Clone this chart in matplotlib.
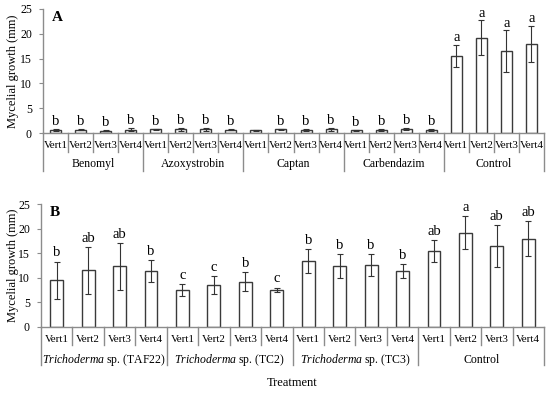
import matplotlib
matplotlib.use('Agg')
import matplotlib.pyplot as plt
import numpy as np

plt.rcParams['font.family'] = ['Liberation Serif', 'DejaVu Serif']
plt.rcParams['mathtext.fontset'] = 'custom'
plt.rcParams['mathtext.it'] = 'Liberation Serif:italic'
plt.rcParams['mathtext.rm'] = 'Liberation Serif'

isolates = ['Vert1', 'Vert2', 'Vert3', 'Vert4']

# Panel A
groups_a = ['Benomyl', 'Azoxystrobin', 'Captan', 'Carbendazim', 'Control']
means_a = [0.7, 0.7, 0.5, 0.7,
           0.8, 0.8, 0.8, 0.7,
           0.6, 0.8, 0.7, 0.8,
           0.6, 0.7, 0.8, 0.7,
           15.6, 19.2, 16.5, 18.0]
errs_a = [0.2, 0.1, 0.1, 0.3,
          0.1, 0.3, 0.3, 0.1,
          0.1, 0.1, 0.2, 0.3,
          0.1, 0.2, 0.2, 0.2,
          2.2, 3.5, 4.2, 3.6]
letters_a = ['b', 'b', 'b', 'b',
             'b', 'b', 'b', 'b',
             '', 'b', 'b', 'b',
             'b', 'b', 'b', 'b',
             'a', 'a', 'a', 'a']

# Panel B
groups_b = [r'$\it{Trichoderma}$ sp. (TAF22)', r'$\it{Trichoderma}$ sp. (TC2)',
            r'$\it{Trichoderma}$ sp. (TC3)', 'Control']
means_b = [9.5, 11.5, 12.3, 11.4,
           7.5, 8.5, 9.2, 7.5,
           13.4, 12.4, 12.6, 11.4,
           15.5, 19.2, 16.5, 18.0]
errs_b = [3.8, 4.8, 4.8, 2.2,
          1.2, 1.9, 1.9, 0.5,
          2.4, 2.4, 2.3, 1.4,
          2.2, 3.4, 4.3, 3.6]
letters_b = ['b', 'ab', 'ab', 'b',
             'c', 'c', 'b', 'c',
             'b', 'b', 'b', 'b',
             'ab', 'a', 'ab', 'ab']

W, H = 550, 394
fig = plt.figure(figsize=(W / 100, H / 100), dpi=100)

spine_col = '#8c8c8c'
edge_col = '#3a3a3a'


def panel(rect_px, groups, means, errs, letters, width, tick_drop, group_drop,
          tick_lab, group_lab, group_fs, label, letter_gap):
    l, t, r, b = rect_px
    ax = fig.add_axes([l / W, 1 - b / H, (r - l) / W, (b - t) / H])
    hpx = b - t
    wpx = r - l
    n = len(means)
    x = np.arange(n)
    ax.bar(x, means, width=width, color='white', edgecolor=edge_col, linewidth=1.0, zorder=2)
    ax.errorbar(x, means, yerr=errs, fmt='none', ecolor='#333333', elinewidth=0.8,
                capsize=2.2, capthick=0.8, zorder=3)
    for xi, m, e, s in zip(x, means, errs, letters):
        if s:
            ax.annotate(s, (xi, m + e), xytext=(0, letter_gap), textcoords='offset points',
                        ha='center', va='bottom', fontsize=10.5)
    ax.set_xlim(-0.5, n - 0.5)
    ax.set_ylim(0, 25)
    ax.set_yticks([0, 5, 10, 15, 20, 25])
    ax.tick_params(axis='y', labelsize=8.5, length=3, color=spine_col, pad=5)
    ax.set_xticks([])
    for s in ['top', 'right']:
        ax.spines[s].set_visible(False)
    for s in ['left', 'bottom']:
        ax.spines[s].set_color(spine_col)
        ax.spines[s].set_linewidth(1.0)
    ax.set_ylabel('Mycelial growth (mm)', fontsize=9)
    ax.yaxis.set_label_coords((19 - l) / wpx, 0.5)
    tr = ax.get_xaxis_transform()
    ng = len(groups)
    for i in range(1, n):
        if i % 4 != 0:
            ax.plot([i - 0.5, i - 0.5], [0, -tick_drop / hpx], transform=tr,
                    color=spine_col, lw=1.0, clip_on=False)
    for g in range(ng + 1):
        xx = g * 4 - 0.5
        ax.plot([xx, xx], [0, -group_drop / hpx], transform=tr,
                color=spine_col, lw=1.0, clip_on=False)
    for i in range(n):
        ax.text(i, -tick_lab / hpx, isolates[i % 4], transform=tr, ha='center',
                va='center', fontsize=8)
    for g in range(ng):
        ax.text(g * 4 + 1.5, -group_lab / hpx, groups[g], transform=tr, ha='center',
                va='center', fontsize=group_fs)
    ax.text(0.018, 0.93, label, transform=ax.transAxes, fontsize=11,
            fontweight='bold', ha='left', va='center')
    return ax


axA = panel((43, 9, 544, 133), groups_a, means_a, errs_a, letters_a, 0.44,
            19, 38, 12, 31, 8.5, 'A', 0.5)
axB = panel((41, 204.3, 544, 326.7), groups_b, means_b, errs_b, letters_b, 0.41,
            18, 38, 13, 33, 8.5, 'B', 1.5)

fig.text(292 / W, 1 - 383 / H, 'Treatment', ha='center', va='center', fontsize=9)

fig.savefig('out.png', dpi=100)
